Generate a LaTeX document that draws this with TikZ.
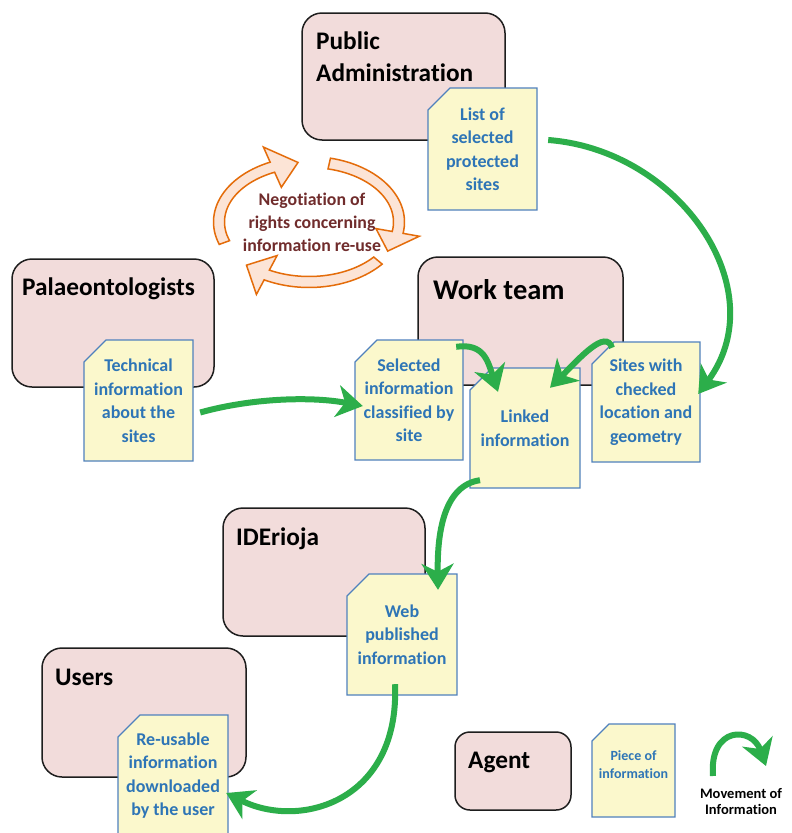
\documentclass[tikz,border=0pt]{standalone}
\usepackage{fontspec}
\setmainfont{Carlito}[Ligatures=CommonOff]
\usetikzlibrary{arrows.meta}
\definecolor{agentfill}{RGB}{242,220,219}
\definecolor{agentline}{RGB}{30,30,30}
\definecolor{docfill}{RGB}{251,248,204}
\definecolor{docline}{RGB}{79,129,189}
\definecolor{doctext}{RGB}{46,117,182}
\definecolor{flow}{RGB}{44,174,74}
\definecolor{cycline}{RGB}{228,108,10}
\definecolor{cycfill}{RGB}{252,228,214}
\definecolor{negtext}{RGB}{112,44,44}
\def\ccx{309}\def\ccy{222}\def\cca{90}\def\ccb{60}\def\ccw{5.5}\def\cch{22}
\newcommand{\cycarrow}[3]{%
 \draw[cyc] plot[domain=#1:#2,samples=30] ({\ccx+(\cca+\ccw)*cos(\x)},{\ccy-(\ccb+\ccw)*sin(\x)})
  -- ({\ccx+(\cca+\cch)*cos(#2)},{\ccy-(\ccb+\cch)*sin(#2)})
  -- ({\ccx+\cca*cos(#3)},{\ccy-\ccb*sin(#3)})
  -- ({\ccx+(\cca-\cch)*cos(#2)},{\ccy-(\ccb-\cch)*sin(#2)})
  -- plot[domain=#2:#1,samples=30] ({\ccx+(\cca-\ccw)*cos(\x)},{\ccy-(\ccb-\ccw)*sin(\x)}) -- cycle;}
% #1 name, #2 cx, #3 cy, #4 w, #5 h, #6 chamfer, #7 extra node options, #8 text
\newcommand{\docpiece}[8]{%
 \draw[docbox] ({#2-#4/2+#6},{#3-#5/2}) -- ({#2+#4/2},{#3-#5/2}) -- ({#2+#4/2},{#3+#5/2})
   -- ({#2-#4/2},{#3+#5/2}) -- ({#2-#4/2},{#3-#5/2+#6}) -- cycle;
 \node[doctxt, minimum width=#4, minimum height=#5, #7] (#1) at (#2,#3) {#8};}
\begin{document}
\begin{tikzpicture}[x=1pt,y=-1pt,
 agent/.style={draw=agentline, fill=agentfill, line width=1.5pt, rounded corners=20pt, inner sep=0pt},
 agenttitle/.style={anchor=base west, inner sep=0pt, font=\fontsize{25.3}{31.5}\selectfont\bfseries, align=left},
 docbox/.style={draw=docline, fill=docfill, line width=1.3pt, line join=miter},
 doctxt/.style={text=doctext, font=\fontsize{18}{23.5}\selectfont\bfseries, align=center, inner sep=0pt},
 flowarrow/.style={draw=flow, line width=6pt, -{Stealth[length=26pt,width=32pt,inset=8pt]}},
 cyc/.style={draw=cycline, fill=cycfill, line width=1.5pt, line join=miter},
]
\fill[white] (0,0) rectangle (792,833);
\useasboundingbox (0,0) rectangle (792,833);

% agents
\node[agent, minimum width=203pt, minimum height=127pt] (pa) at (403.5,76.5) {};
\node[agent, minimum width=202pt, minimum height=128pt] (pal) at (113,323) {};
\node[agent, minimum width=205pt, minimum height=128pt] (wt) at (520.5,321) {};
\node[agent, minimum width=202pt, minimum height=128pt] (ide) at (324,572) {};
\node[agent, minimum width=204pt, minimum height=129pt] (usr) at (144,712.5) {};
\node[agent, rounded corners=15pt, minimum width=116pt, minimum height=78pt] (lag) at (513,771) {};

\node[agenttitle] (patitle) at (316,81) {Public\\Administration};
\node[agenttitle] (paltitle) at (22,295) {Palaeontologists};
\node[agenttitle, font=\fontsize{28.5}{32}\selectfont\bfseries] (wttitle) at (433,299) {Work team};
\node[agenttitle] (idetitle) at (236,545) {IDErioja};
\node[agenttitle] (usrtitle) at (55,685) {Users};
\node[agenttitle] (lagtitle) at (468,768) {Agent};

% negotiation cycle
\cycarrow{200}{114}{97}
\cycarrow{77}{-10}{-29}
\cycarrow{-40}{-118}{-134}
\node[text=negtext, font=\fontsize{17.8}{23}\selectfont\bfseries, align=center, inner sep=0pt] (neg) at (312,222) {Negotiation of\\rights concerning\\information re-use};

% documents
\docpiece{list}{482.5}{149}{109}{122}{22}{}{List of\\selected\\protected\\sites}
\docpiece{tech}{138.5}{400.5}{109}{121}{22}{}{Technical\\information\\about the\\sites}
\docpiece{sel}{409}{400}{108}{120}{22}{}{Selected\\information\\classified by\\site}
\docpiece{linked}{525}{428}{110}{120}{22}{}{Linked\\information}
\docpiece{sites}{646}{402}{108}{120}{22}{}{Sites with\\checked\\location and\\geometry}
\docpiece{web}{402}{634.5}{110}{121}{22}{}{Web\\published\\information}
\docpiece{reuse}{173}{775.5}{110}{121}{22}{}{Re-usable\\information\\downloaded\\by the user}
\docpiece{lpiece}{633.5}{770.5}{83}{93}{17}{font=\fontsize{14}{18}\selectfont\bfseries, yshift=6pt}{Piece of\\information}

% flows
\draw[flowarrow] ([shift={(11,-9)}]list.east) .. controls +(132,10) and +(77,-104) .. ([shift={(-2,-8)}]sites.east);
\draw[flowarrow] ([shift={(7,12)}]tech.east) .. controls +(50,-14) and +(-53,-10) .. ([shift={(8,6)}]sel.west);
\draw[flowarrow] ([shift={(-7,7)}]sel.north east) .. controls +(28,-4) and +(-10,-30) .. ([shift={(-27,24)}]linked.north);
\draw[flowarrow] ([shift={(-34,6)}]sites.north) .. controls +(-6,-20) and +(28,-28) .. ([shift={(25,20)}]linked.north);
\draw[flowarrow] ([shift={(-45,-8)}]linked.south) .. controls +(-35,5) and +(-1,-60) .. ([shift={(36,16)}]web.north);
\draw[flowarrow] ([shift={(-7,-11)}]web.south) .. controls +(5,117) and +(74,37) .. ([shift={(-2,17.5)}]reuse.east);

% legend
\coordinate (lgA) at (713,776);
\coordinate (lgB) at (766,766);
\draw[flowarrow] (lgA) .. controls +(-4,-50) and +(-14,-40) .. (lgB);
\node[font=\fontsize{14.5}{16}\selectfont\bfseries, align=center, inner sep=0pt] (lgtext) at (741,802) {Movement of\\Information};
\end{tikzpicture}
\end{document}
